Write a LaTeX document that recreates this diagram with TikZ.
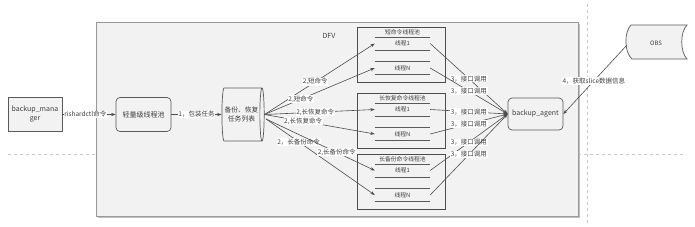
\documentclass[tikz,border=0pt]{standalone}
\usepackage{fontspec}
\setmainfont{Noto Sans CJK SC}
\usetikzlibrary{shapes.geometric,arrows.meta}
\definecolor{bgfill}{HTML}{F2F2F2}
\definecolor{edgecol}{HTML}{4D4D4D}
\definecolor{txtcol}{HTML}{404040}
\begin{document}
\begin{tikzpicture}[x=1pt,y=-1pt,
  frame/.style={draw=black!40, line width=1pt, fill=bgfill},
  plainbox/.style={draw=black!65, fill=bgfill, line width=0.7pt, minimum width=54pt, minimum height=34pt, inner sep=1pt, align=center, font=\fontsize{7}{9}\selectfont, text=txtcol},
  roundbox/.style={plainbox, rounded corners=4pt},
  poolbox/.style={draw=black!70, line width=0.7pt, fill=bgfill},
  threadnode/.style={minimum width=55pt, minimum height=12.5pt, inner sep=0pt, font=\fontsize{5.8}{6}\selectfont, text=txtcol},
  sepline/.style={draw=black!65, line width=0.6pt},
  arr/.style={draw=edgecol, line width=0.6pt, -{Stealth[length=4.5pt,width=3.2pt]}},
  lbl/.style={fill=white, inner sep=0.6pt, font=\fontsize{6.5}{7}\selectfont, text=txtcol},
  dashline/.style={draw=black!22, dashed, line width=0.6pt}
]
\useasboundingbox (0,0) rectangle (695,226);

% dashed guide lines
\draw[dashline] (8,154) -- (96,154);
\draw[dashline] (578,154) -- (686,154);
\draw[dashline] (587,4) -- (587,224);

% DFV frame (with a faint shadow on the right and bottom)
\draw[draw=black!25, line width=1pt] (97.5,217.2) -- (579.2,217.2) -- (579.2,23.5);
\draw[frame] (96,22) rectangle (578,216);
\node[font=\fontsize{7}{8}\selectfont, text=txtcol] (dfv) at (329,36) {DFV};

% main nodes
\node[plainbox] (mgr) at (35,114.5) {backup\_mana\\ger};
\node[roundbox, minimum width=55pt] (pool) at (143.5,114.5) {轻量级线程池};
\node[cylinder, shape border rotate=0, aspect=0.25, draw=black!65, fill=bgfill, line width=0.7pt,
      minimum width=53pt, minimum height=35pt, inner sep=1pt, align=center,
      font=\fontsize{6.8}{9}\selectfont, text=txtcol] (cyl) at (241.5,114.5) {备份、恢复\\任务列表};
\node[roundbox, minimum width=55pt, minimum height=32pt] (agent) at (535.5,114) {backup\_agent};

% OBS storage shape
\draw[draw=black!65, fill=bgfill, line width=0.7pt]
  (631,25) -- (687,25) .. controls (680,32) and (680,52) .. (687,59)
  -- (632,59) .. controls (624,52) and (624,32) .. (631,25) -- cycle;
\node[font=\fontsize{6}{7}\selectfont, text=txtcol] (obs) at (656,43) {OBS};
\coordinate (obsl) at (627,45);

% thread pools
\foreach \n/\ty/\title in {1/27/短命令线程池, 2/93/长恢复命令线程池, 3/154/长备份命令线程池}{
  \draw[poolbox] (357,\ty) rectangle (445,\ty+55);
  \node[font=\fontsize{5.8}{6}\selectfont, text=txtcol] (p\n title) at (402.5,\ty+5) {\title};
  \node[threadnode] (p\n a) at (402.5,\ty+16.5) {线程1};
  \node[threadnode] (p\n b) at (402.5,\ty+41) {线程N};
  \node[font=\fontsize{4.5}{4.5}\selectfont, text=black!55, inner sep=0pt] (p\n dots) at (402.5,\ty+24.5) {......};
  \draw[sepline] (p\n a.north west) -- (p\n a.north east);
  \draw[sepline] (p\n a.south west) -- (p\n a.south east);
  \draw[sepline] (p\n b.north west) -- (p\n b.north east);
  \draw[sepline] (p\n b.south west) -- (p\n b.south east);
}

% connectors
\draw[arr] (mgr) -- node[lbl, pos=0.43] {rishardctl命令} (pool);
\draw[arr] (pool) -- node[lbl] {1，包装任务} (cyl);

\coordinate (cyllow) at (266,119);
\draw[arr] (cyl.east) -- node[lbl, pos=0.46] {2,短命令} (p1a.west);
\draw[arr] (cyl.east) -- node[lbl, pos=0.33] {2,短命令} (p1b.west);
\draw[arr] (cyl.east) -- node[lbl, pos=0.46] {2,长恢复命令} (p2a.west);
\draw[arr] (cyl.east) -- node[lbl, pos=0.35] {2,长恢复命令} (p2b.west);
\draw[arr] (cyllow) -- node[lbl, pos=0.3] {2，长备份命令} (p3b.west);
\draw[arr] (cyllow) -- node[lbl, pos=0.65] {2,长备份命令} (p3a.west);

\foreach \t in {p1a,p1b,p2a,p2b,p3a,p3b}{
  \draw[arr] (\t.east) -- node[lbl] {3，接口调用} (agent.west);
}

\draw[arr] (obsl) -- node[lbl, pos=0.52] {4，获取slice数据信息} (agent.east);
\end{tikzpicture}
\end{document}
